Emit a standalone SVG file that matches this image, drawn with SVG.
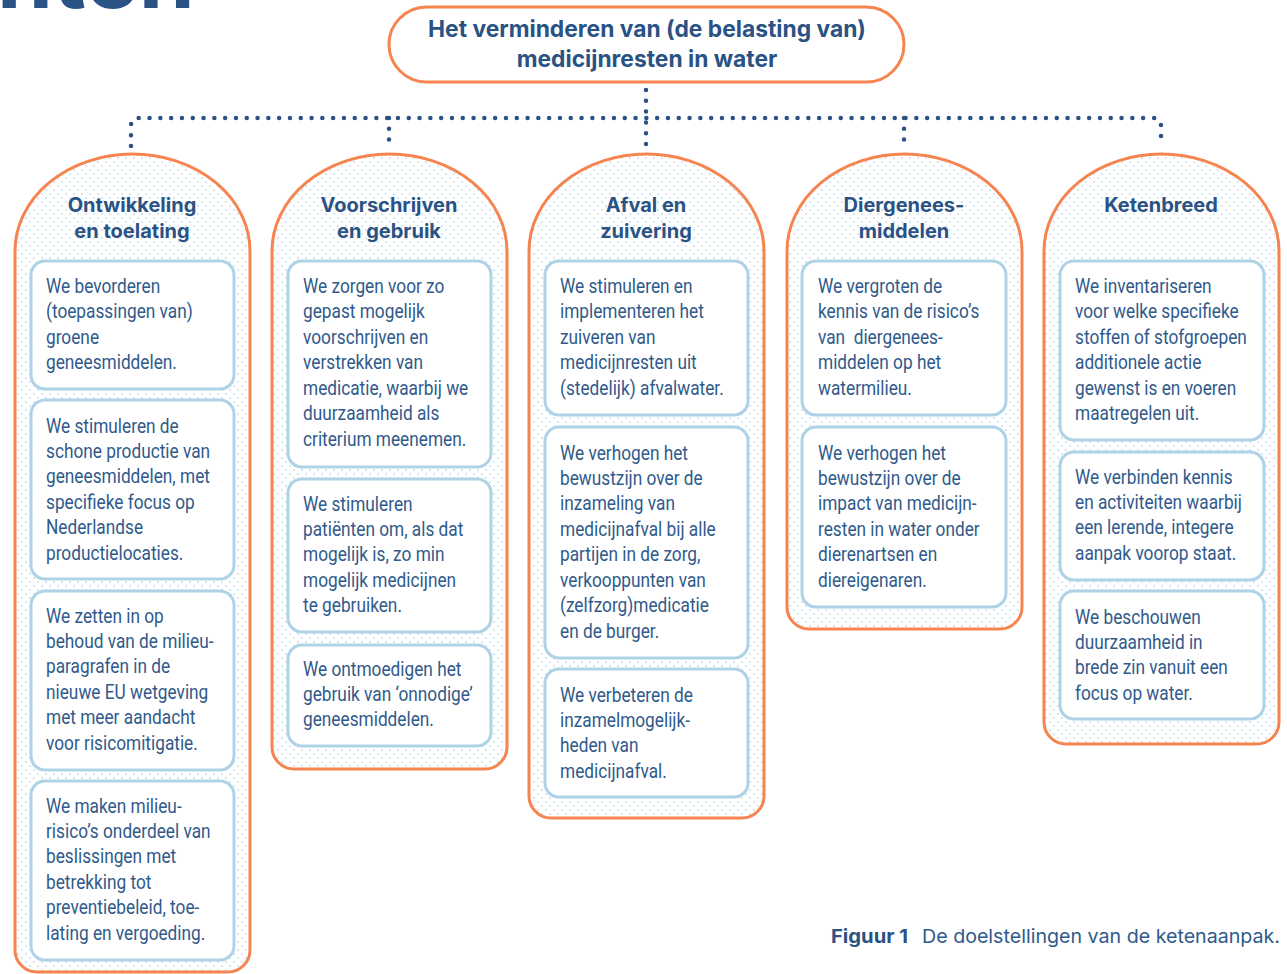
<svg xmlns="http://www.w3.org/2000/svg" width="1287" height="974" viewBox="0 0 1287 974">
<defs>
<pattern id="dots" width="8" height="8" patternUnits="userSpaceOnUse">
<rect width="8" height="8" fill="#ffffff"/>
<circle cx="2" cy="2" r="0.8" fill="#9fcbe3"/>
<circle cx="6" cy="6" r="0.8" fill="#9fcbe3"/>
</pattern>
<style>
.outer{fill:url(#dots);stroke:#f5844f;stroke-width:3}
.box{fill:#ffffff;stroke:#aed3e7;stroke-width:3}
.root{fill:#ffffff;stroke:#f5844f;stroke-width:3}
.h{font-family:Inter,"Noto Sans",sans-serif;font-weight:700;font-size:20px;fill:#2a5284;text-anchor:middle}
.t{font-family:Inter,"Noto Sans",sans-serif;font-weight:700;font-size:22.8px;fill:#2a5284;text-anchor:middle}
.b{font-family:Roboto,"Liberation Sans",sans-serif;font-size:19.5px;fill:#2f5a8b}
.con{fill:none;stroke:#2a5284;stroke-width:4.5;stroke-linecap:round;stroke-dasharray:0 10.8}
</style>
</defs>
<rect width="1287" height="974" fill="#ffffff"/>
<text x="-3" y="8" font-family="Inter, 'Noto Sans', sans-serif" font-weight="700" font-size="90" fill="#2a5284">nten</text>

<g id="connectors">
<path class="con" d="M646 90 V146"/>
<path class="con" d="M131 146 V126 Q131 118 139 118 H1153 Q1161 118 1161 126 V146"/>
<path class="con" d="M389 118 V146"/>
<path class="con" d="M904 118 V146"/>
</g>

<g id="root">
<rect class="root" x="389" y="7" width="515" height="75" rx="37.5"/>
<text class="t" x="647" y="37">Het verminderen van (de belasting van)</text>
<text class="t" x="647" y="66.5">medicijnresten in water</text>
</g>

<g id="col-ontwikkeling">
<path class="outer" d="M15 251 A117.5 97 0 0 1 250 251 V950 A22 22 0 0 1 228 972 H37 A22 22 0 0 1 15 950 Z"/>
<text class="h" x="132" y="212">Ontwikkeling</text>
<text class="h" x="132" y="238">en toelating</text>
<rect class="box" x="31" y="261" width="203" height="128" rx="14"/>
<text class="b" transform="translate(46 293) scale(0.885 1)"><tspan x="0">We bevorderen</tspan><tspan x="0" dy="25.5">(toepassingen van)</tspan><tspan x="0" dy="25.5">groene</tspan><tspan x="0" dy="25.5">geneesmiddelen.</tspan></text>
<rect class="box" x="31" y="400" width="203" height="179" rx="14"/>
<text class="b" transform="translate(46 432.5) scale(0.885 1)"><tspan x="0">We stimuleren de</tspan><tspan x="0" dy="25.5">schone productie van</tspan><tspan x="0" dy="25.5">geneesmiddelen, met</tspan><tspan x="0" dy="25.5">specifieke focus op</tspan><tspan x="0" dy="25.5">Nederlandse</tspan><tspan x="0" dy="25.5">productielocaties.</tspan></text>
<rect class="box" x="31" y="591" width="203" height="179" rx="14"/>
<text class="b" transform="translate(46 622.5) scale(0.885 1)"><tspan x="0">We zetten in op</tspan><tspan x="0" dy="25.5">behoud van de milieu-</tspan><tspan x="0" dy="25.5">paragrafen in de</tspan><tspan x="0" dy="25.5">nieuwe EU wetgeving</tspan><tspan x="0" dy="25.5">met meer aandacht</tspan><tspan x="0" dy="25.5">voor risicomitigatie.</tspan></text>
<rect class="box" x="31" y="781" width="203" height="179" rx="14"/>
<text class="b" transform="translate(46 812.5) scale(0.885 1)"><tspan x="0">We maken milieu-</tspan><tspan x="0" dy="25.5">risico’s onderdeel van</tspan><tspan x="0" dy="25.5">beslissingen met</tspan><tspan x="0" dy="25.5">betrekking tot</tspan><tspan x="0" dy="25.5">preventiebeleid, toe-</tspan><tspan x="0" dy="25.5">lating en vergoeding.</tspan></text>
</g>

<g id="col-voorschrijven">
<path class="outer" d="M272 251 A117.5 97 0 0 1 507 251 V747 A22 22 0 0 1 485 769 H294 A22 22 0 0 1 272 747 Z"/>
<text class="h" x="389" y="212">Voorschrijven</text>
<text class="h" x="389" y="238">en gebruik</text>
<rect class="box" x="288" y="261" width="203" height="206" rx="14"/>
<text class="b" transform="translate(303 293) scale(0.885 1)"><tspan x="0">We zorgen voor zo</tspan><tspan x="0" dy="25.5">gepast mogelijk</tspan><tspan x="0" dy="25.5">voorschrijven en</tspan><tspan x="0" dy="25.5">verstrekken van</tspan><tspan x="0" dy="25.5">medicatie, waarbij we</tspan><tspan x="0" dy="25.5">duurzaamheid als</tspan><tspan x="0" dy="25.5">criterium meenemen.</tspan></text>
<rect class="box" x="288" y="479" width="203" height="153" rx="14"/>
<text class="b" transform="translate(303 510.5) scale(0.885 1)"><tspan x="0">We stimuleren</tspan><tspan x="0" dy="25.5">patiënten om, als dat</tspan><tspan x="0" dy="25.5">mogelijk is, zo min</tspan><tspan x="0" dy="25.5">mogelijk medicijnen</tspan><tspan x="0" dy="25.5">te gebruiken.</tspan></text>
<rect class="box" x="288" y="645" width="203" height="101" rx="14"/>
<text class="b" transform="translate(303 675.5) scale(0.885 1)"><tspan x="0">We ontmoedigen het</tspan><tspan x="0" dy="25.5">gebruik van ‘onnodige’</tspan><tspan x="0" dy="25.5">geneesmiddelen.</tspan></text>
</g>

<g id="col-afval">
<path class="outer" d="M529 251 A117.5 97 0 0 1 764 251 V796 A22 22 0 0 1 742 818 H551 A22 22 0 0 1 529 796 Z"/>
<text class="h" x="646" y="212">Afval en</text>
<text class="h" x="646" y="238">zuivering</text>
<rect class="box" x="545" y="261" width="203" height="154" rx="14"/>
<text class="b" transform="translate(560 293) scale(0.885 1)"><tspan x="0">We stimuleren en</tspan><tspan x="0" dy="25.5">implementeren het</tspan><tspan x="0" dy="25.5">zuiveren van</tspan><tspan x="0" dy="25.5">medicijnresten uit</tspan><tspan x="0" dy="25.5">(stedelijk) afvalwater.</tspan></text>
<rect class="box" x="545" y="427" width="203" height="231" rx="14"/>
<text class="b" transform="translate(560 459.5) scale(0.885 1)"><tspan x="0">We verhogen het</tspan><tspan x="0" dy="25.5">bewustzijn over de</tspan><tspan x="0" dy="25.5">inzameling van</tspan><tspan x="0" dy="25.5">medicijnafval bij alle</tspan><tspan x="0" dy="25.5">partijen in de zorg,</tspan><tspan x="0" dy="25.5">verkooppunten van</tspan><tspan x="0" dy="25.5">(zelfzorg)medicatie</tspan><tspan x="0" dy="25.5">en de burger.</tspan></text>
<rect class="box" x="545" y="669" width="203" height="128" rx="14"/>
<text class="b" transform="translate(560 701.5) scale(0.885 1)"><tspan x="0">We verbeteren de</tspan><tspan x="0" dy="25.5">inzamelmogelijk-</tspan><tspan x="0" dy="25.5">heden van</tspan><tspan x="0" dy="25.5">medicijnafval.</tspan></text>
</g>

<g id="col-diergeneesmiddelen">
<path class="outer" d="M787 251 A117.5 97 0 0 1 1022 251 V607 A22 22 0 0 1 1000 629 H809 A22 22 0 0 1 787 607 Z"/>
<text class="h" x="904" y="212">Diergenees-</text>
<text class="h" x="904" y="238">middelen</text>
<rect class="box" x="802" y="261" width="204" height="154" rx="14"/>
<text class="b" transform="translate(818 293) scale(0.885 1)"><tspan x="0">We vergroten de</tspan><tspan x="0" dy="25.5">kennis van de risico’s</tspan><tspan x="0" dy="25.5" xml:space="preserve">van  diergenees-</tspan><tspan x="0" dy="25.5">middelen op het</tspan><tspan x="0" dy="25.5">watermilieu.</tspan></text>
<rect class="box" x="802" y="427" width="204" height="180" rx="14"/>
<text class="b" transform="translate(818 459.5) scale(0.885 1)"><tspan x="0">We verhogen het</tspan><tspan x="0" dy="25.5">bewustzijn over de</tspan><tspan x="0" dy="25.5">impact van medicijn-</tspan><tspan x="0" dy="25.5">resten in water onder</tspan><tspan x="0" dy="25.5">dierenartsen en</tspan><tspan x="0" dy="25.5">diereigenaren.</tspan></text>
</g>

<g id="col-ketenbreed">
<path class="outer" d="M1044 251 A117.5 97 0 0 1 1279 251 V722 A22 22 0 0 1 1257 744 H1066 A22 22 0 0 1 1044 722 Z"/>
<text class="h" x="1161" y="212">Ketenbreed</text>
<rect class="box" x="1060" y="261" width="204" height="179" rx="14"/>
<text class="b" transform="translate(1075 293) scale(0.885 1)"><tspan x="0">We inventariseren</tspan><tspan x="0" dy="25.5">voor welke specifieke</tspan><tspan x="0" dy="25.5">stoffen of stofgroepen</tspan><tspan x="0" dy="25.5">additionele actie</tspan><tspan x="0" dy="25.5">gewenst is en voeren</tspan><tspan x="0" dy="25.5">maatregelen uit.</tspan></text>
<rect class="box" x="1060" y="452" width="204" height="128" rx="14"/>
<text class="b" transform="translate(1075 483.5) scale(0.885 1)"><tspan x="0">We verbinden kennis</tspan><tspan x="0" dy="25.5">en activiteiten waarbij</tspan><tspan x="0" dy="25.5">een lerende, integere</tspan><tspan x="0" dy="25.5">aanpak voorop staat.</tspan></text>
<rect class="box" x="1060" y="591" width="204" height="128" rx="14"/>
<text class="b" transform="translate(1075 623.5) scale(0.885 1)"><tspan x="0">We beschouwen</tspan><tspan x="0" dy="25.5">duurzaamheid in</tspan><tspan x="0" dy="25.5">brede zin vanuit een</tspan><tspan x="0" dy="25.5">focus op water.</tspan></text>
</g>

<g id="caption">
<text x="831" y="943" font-family="Inter, 'Noto Sans', sans-serif" font-weight="700" font-size="19" fill="#2a5284" textLength="77" lengthAdjust="spacingAndGlyphs">Figuur 1</text>
<text x="922" y="943" font-family="Inter, 'Noto Sans', sans-serif" font-size="19" fill="#2f5a8b" textLength="358" lengthAdjust="spacingAndGlyphs">De doelstellingen van de ketenaanpak.</text>
</g>
</svg>
